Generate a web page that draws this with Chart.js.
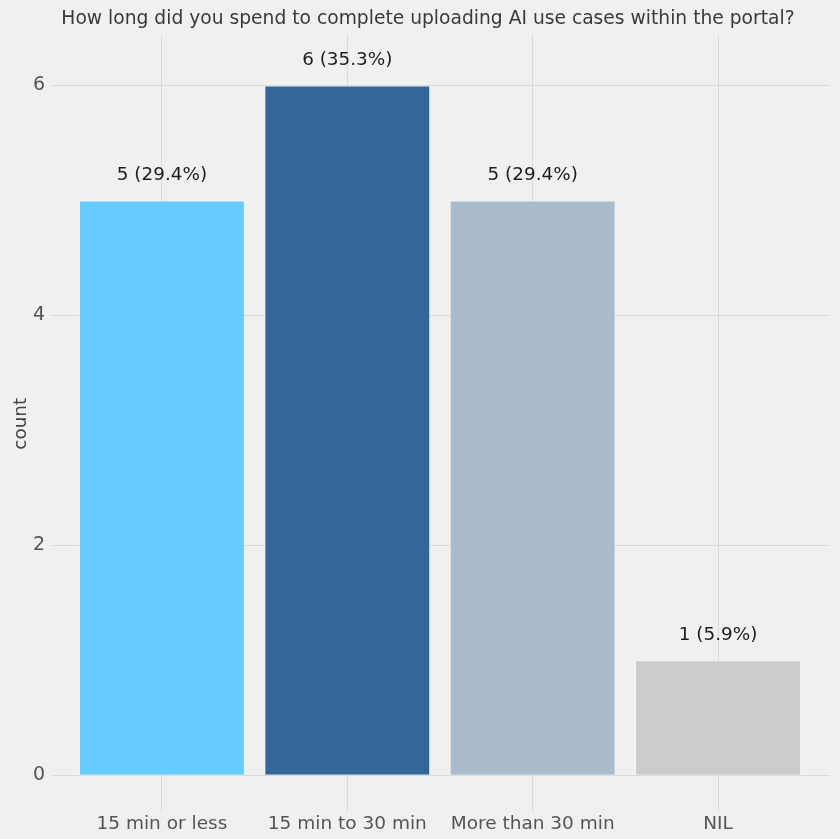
<!DOCTYPE html>
<html>
<head>
<meta charset="utf-8">
<script src="https://cdn.jsdelivr.net/npm/chart.js@4.4.1/dist/chart.umd.min.js"></script>
<style>
  html, body { margin: 0; padding: 0; background: #f0f0f0; }
  #wrap { width: 840px; height: 839px; }
</style>
</head>
<body>
<div id="wrap"><canvas id="c" width="840" height="839"></canvas></div>
<script>
// Survey answers and their counts
const categories = ['15 min or less', '15 min to 30 min', 'More than 30 min', 'NIL'];
const counts = [5, 6, 5, 1];
const barColors = ['#66ccff', '#336699', '#aabbcc', '#cccccc'];
const yTicks = [0, 2, 4, 6];
const chartTitle = 'How long did you spend to complete uploading AI use cases within the portal?';

const total = counts.reduce((a, b) => a + b, 0);
const FONT = "'DejaVu Sans', sans-serif";

// Writes "count (share%)" above every bar
const barLabels = {
  id: 'barLabels',
  afterDatasetsDraw(chart) {
    const ctx = chart.ctx;
    const meta = chart.getDatasetMeta(0);
    ctx.save();
    ctx.font = '18.4px ' + FONT;
    ctx.fillStyle = '#1e1e1e';
    ctx.textAlign = 'center';
    ctx.textBaseline = 'middle';
    meta.data.forEach((bar, i) => {
      const v = counts[i];
      const pct = (v / total * 100).toFixed(1);
      ctx.fillText(v + ' (' + pct + '%)', bar.x, bar.y - 25);
    });
    ctx.restore();
  }
};

new Chart(document.getElementById('c'), {
  type: 'bar',
  data: {
    datasets: [{
      data: counts.map((v, i) => ({ x: i, y: v })),
      backgroundColor: barColors,
      borderColor: 'rgba(255,255,255,0.3)',
      borderWidth: 1,
      barPercentage: 0.895,
      categoryPercentage: 1.0
    }]
  },
  options: {
    responsive: false,
    animation: false,
    devicePixelRatio: 1,
    layout: { padding: { left: 26, right: 10, top: 0, bottom: 0 } },
    plugins: {
      legend: { display: false },
      tooltip: { enabled: false },
      title: {
        display: true,
        text: chartTitle,
        color: '#3a3a3a',
        font: { family: FONT, size: 18.7, weight: 'normal' },
        padding: { top: 8, bottom: 5 }
      }
    },
    scales: {
      x: {
        type: 'linear',
        min: -0.593,
        max: 3.604,
        offset: false,
        afterBuildTicks(axis) { axis.ticks = categories.map((_, i) => ({ value: i })); },
        afterFit(axis) { axis.height = 27; },
        ticks: {
          callback: (v) => categories[v],
          color: '#555555',
          font: { family: FONT, size: 18.5 },
          padding: 1,
          maxRotation: 0,
          autoSkip: false
        },
        grid: { color: '#dadada', lineWidth: 1, drawTicks: false, offset: false },
        border: { display: false }
      },
      y: {
        min: -0.32,
        max: 6.435,
        afterBuildTicks(axis) { axis.ticks = yTicks.map(v => ({ value: v })); },
        afterFit(axis) { axis.width = 26; },
        title: {
          display: true,
          text: 'count',
          color: '#444444',
          font: { family: FONT, size: 18.4 },
          padding: { top: -15.5, bottom: 0 }
        },
        ticks: {
          color: '#555555',
          font: { family: FONT, size: 19 },
          padding: 7
        },
        grid: { color: '#dadada', lineWidth: 1, drawTicks: false },
        border: { display: false }
      }
    }
  },
  plugins: [barLabels]
});
</script>
</body>
</html>
